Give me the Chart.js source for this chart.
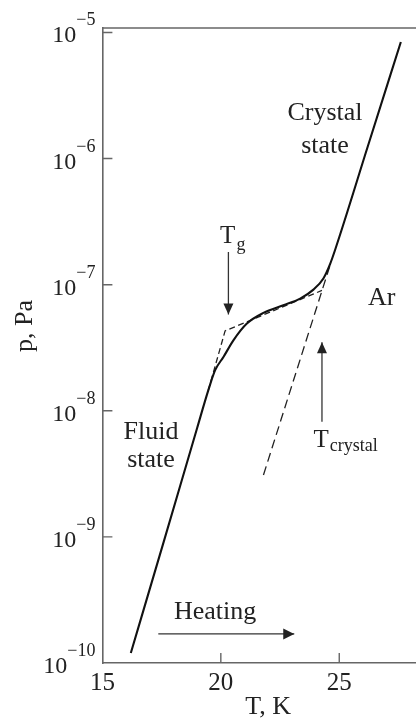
<!DOCTYPE html>
<html>
<head>
<meta charset="utf-8">
<title>Argon vapour pressure on heating</title>
<script src="https://cdn.jsdelivr.net/npm/chart.js@4.4.1/dist/chart.umd.min.js"></script>
<style>
  html, body { margin: 0; padding: 0; background: #fff; overflow: hidden; }
  #wrap { position: relative; width: 434px; height: 720px; }
</style>
</head>
<body>
<div id="wrap"><canvas id="chart"></canvas></div>
<script>
// Vapour pressure of argon (Pa) against temperature (K) while heating
// a vapour-deposited film: fluid branch, glass transition, crystal branch.
const solidT = [16.2, 17.6, 19.0, 19.47, 19.76, 20.11, 20.53, 21.10, 21.80, 22.64, 23.35, 23.91, 24.33, 24.62, 24.83, 26.2, 27.6];
const solidP = [1.2e-10, 9.3e-10, 7.3e-9, 1.45e-8, 2.1e-8, 2.67e-8, 3.62e-8, 4.92e-8, 5.97e-8, 6.87e-8, 7.76e-8, 9.14e-8, 1.12e-7, 1.47e-7, 1.9e-7, 1.24e-6, 8.4e-6];

// extrapolated fluid branch and its link to the crystal branch
const fluidDashT = [19.47, 20.18, 24.27];
const fluidDashP = [1.45e-8, 4.3e-8, 9.0e-8];

// extrapolated crystal branch
const crystalDashT = [21.8, 24.65];
const crystalDashP = [3.1e-9, 1.5e-7];

// arrows: T_g, T_crystal and the heating direction
const tgArrowT = [20.32, 20.32];
const tgArrowP = [1.82e-7, 5.8e-8];
const tcArrowT = [24.27, 24.27];
const tcArrowP = [8.2e-9, 3.5e-8];
const heatArrowT = [17.36, 23.1];
const heatArrowP = [1.7e-10, 1.7e-10];

// axis ticks
const xTicks = [15, 20, 25];
const yTicks = [1e-10, 1e-9, 1e-8, 1e-7, 1e-6, 1e-5];

// text placed in data coordinates
const notes = [
  { text: 'Crystal', t: 24.40, p: 2.03e-6 },
  { text: 'state',   t: 24.40, p: 1.10e-6 },
  { text: 'Fluid',   t: 17.05, p: 5.94e-9 },
  { text: 'state',   t: 17.05, p: 3.56e-9 },
  { text: 'Heating', t: 19.76, p: 2.22e-10 },
  { text: 'Ar',      t: 26.79, p: 6.87e-8 }
];
const subNotes = [
  { main: 'T', sub: 'g',       t: 19.97, p: 2.13e-7, drop: 7 },
  { main: 'T', sub: 'crystal', t: 23.91, p: 5.16e-9, drop: 3.5 }
];
const yTitle = { text: 'p, Pa', p: 4.7e-8 };

const serif = "'Liberation Serif', 'Times New Roman', serif";
const ink = '#222';
const axisColor = '#666';

const pts = (xs, ys) => xs.map((v, i) => ({ x: v, y: ys[i] }));

const decorations = {
  id: 'decorations',
  afterDatasetsDraw(chart) {
    const { ctx, chartArea: a, scales: { x, y } } = chart;
    ctx.save();

    // top edge of the frame
    ctx.strokeStyle = axisColor;
    ctx.lineWidth = 1.6;
    ctx.beginPath();
    ctx.moveTo(a.left, a.top);
    ctx.lineTo(a.right + 2, a.top);
    ctx.stroke();

    // inward tick marks
    ctx.lineWidth = 1.4;
    ctx.beginPath();
    x.ticks.forEach(tk => {
      const px = x.getPixelForValue(tk.value);
      if (px > a.left + 2) { ctx.moveTo(px, a.bottom); ctx.lineTo(px, a.bottom - 10); }
    });
    y.ticks.forEach(tk => {
      const py = y.getPixelForValue(tk.value);
      if (py > a.top + 2 && py < a.bottom - 2) { ctx.moveTo(a.left, py); ctx.lineTo(a.left + 10, py); }
    });
    ctx.stroke();

    // arrowheads at the last point of each arrow dataset
    chart.data.datasets.forEach((ds, i) => {
      if (!ds.arrow) return;
      const el = chart.getDatasetMeta(i).data;
      const tip = el[el.length - 1], prev = el[el.length - 2];
      const ang = Math.atan2(tip.y - prev.y, tip.x - prev.x);
      const L = ds.arrow.length, W = ds.arrow.width / 2;
      const bx = tip.x - L * Math.cos(ang), by = tip.y - L * Math.sin(ang);
      ctx.fillStyle = ink;
      ctx.beginPath();
      ctx.moveTo(tip.x, tip.y);
      ctx.lineTo(bx + W * Math.sin(ang), by - W * Math.cos(ang));
      ctx.lineTo(bx - W * Math.sin(ang), by + W * Math.cos(ang));
      ctx.closePath();
      ctx.fill();
    });

    // annotations
    ctx.fillStyle = ink;
    ctx.textBaseline = 'alphabetic';
    ctx.textAlign = 'center';
    ctx.font = '26px ' + serif;
    notes.forEach(n => ctx.fillText(n.text, x.getPixelForValue(n.t), y.getPixelForValue(n.p)));

    ctx.textAlign = 'left';
    subNotes.forEach(n => {
      const px = x.getPixelForValue(n.t), py = y.getPixelForValue(n.p);
      ctx.font = '25px ' + serif;
      ctx.fillText(n.main, px, py);
      const w = ctx.measureText(n.main).width;
      ctx.font = '18px ' + serif;
      ctx.fillText(n.sub, px + w + 1, py + n.drop);
    });

    // y tick labels as powers of ten
    ctx.textAlign = 'right';
    y.ticks.forEach(tk => {
      const py = y.getPixelForValue(tk.value);
      const exp = '\u2212' + Math.abs(Math.round(Math.log10(tk.value)));
      ctx.font = '18px ' + serif;
      const ew = ctx.measureText(exp).width;
      const right = a.left - 7;
      ctx.fillText(exp, right, py - 7);
      ctx.font = '24px ' + serif;
      ctx.fillText('10', right - ew, py + 10);
    });

    // y axis title
    ctx.save();
    ctx.translate(32, y.getPixelForValue(yTitle.p));
    ctx.rotate(-Math.PI / 2);
    ctx.textAlign = 'center';
    ctx.font = '26px ' + serif;
    ctx.fillText(yTitle.text, 0, 0);
    ctx.restore();

    ctx.restore();
  }
};

const lineBase = { pointRadius: 0, fill: false, tension: 0 };

new Chart(document.getElementById('chart'), {
  type: 'line',
  data: {
    datasets: [
      { ...lineBase, data: pts(solidT, solidP), borderColor: '#111', borderWidth: 2.1, cubicInterpolationMode: 'monotone' },
      { ...lineBase, data: pts(fluidDashT, fluidDashP), borderColor: ink, borderWidth: 1.3, borderDash: [6, 3.5] },
      { ...lineBase, data: pts(crystalDashT, crystalDashP), borderColor: ink, borderWidth: 1.3, borderDash: [9, 5] },
      { ...lineBase, data: pts(tgArrowT, tgArrowP), borderColor: '#333', borderWidth: 1.3, arrow: { length: 11, width: 10 } },
      { ...lineBase, data: pts(tcArrowT, tcArrowP), borderColor: '#333', borderWidth: 1.3, arrow: { length: 11, width: 10 } },
      { ...lineBase, data: pts(heatArrowT, heatArrowP), borderColor: '#333', borderWidth: 1.3, arrow: { length: 11, width: 11 } }
    ]
  },
  options: {
    responsive: true,
    maintainAspectRatio: false,
    animation: false,
    events: [],
    layout: { padding: { top: 28, left: 0, right: 0, bottom: 0 } },
    plugins: { legend: { display: false }, tooltip: { enabled: false } },
    scales: {
      x: {
        type: 'linear',
        min: 15,
        max: 29,
        afterBuildTicks: s => { s.ticks = xTicks.map(v => ({ value: v })); },
        afterFit: s => { s.height = 57; },
        grid: { drawOnChartArea: false, drawTicks: false },
        border: { color: axisColor, width: 1.6 },
        ticks: { color: ink, padding: 5, maxRotation: 0, font: { family: serif, size: 25 } },
        title: { display: true, text: 'T, K', color: ink, padding: { top: 0, bottom: 0 }, font: { family: serif, size: 26, lineHeight: 1.0 } }
      },
      y: {
        type: 'logarithmic',
        min: 1e-10,
        max: 1.085e-5,
        afterBuildTicks: s => { s.ticks = yTicks.map(v => ({ value: v })); },
        afterFit: s => { s.width = 102.4; },
        grid: { drawOnChartArea: false, drawTicks: false },
        border: { color: axisColor, width: 1.6 },
        ticks: { display: false }
      }
    }
  },
  plugins: [decorations]
});
</script>
</body>
</html>
